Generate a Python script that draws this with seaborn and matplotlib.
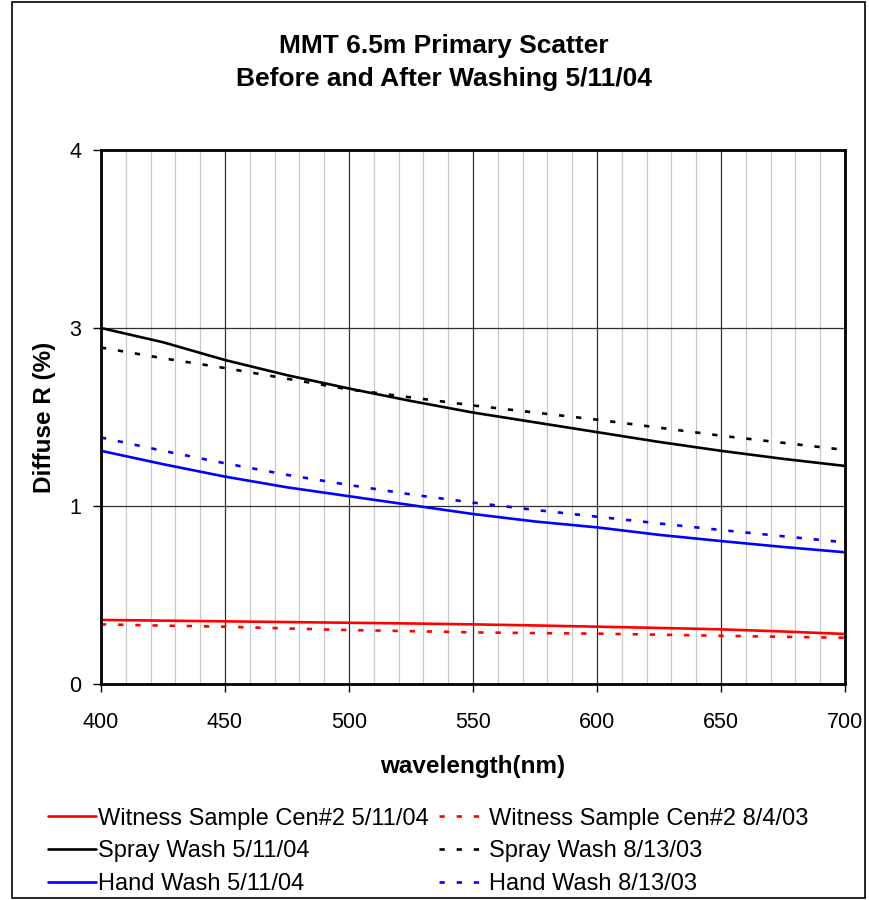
import matplotlib
matplotlib.use("Agg")
import matplotlib.pyplot as plt
import numpy as np
import pandas as pd
import seaborn as sns
from matplotlib.patches import Rectangle
from matplotlib.ticker import MultipleLocator

wavelength = [400, 425, 450, 475, 500, 525, 550, 575, 600, 625, 650, 675, 700]

witness_0504 = [0.36, 0.356, 0.352, 0.348, 0.344, 0.34, 0.335, 0.329, 0.322, 0.315, 0.307, 0.295, 0.281]
witness_0803 = [0.335, 0.328, 0.322, 0.312, 0.303, 0.297, 0.29, 0.286, 0.283, 0.277, 0.271, 0.265, 0.26]
spray_0504 = [3.0, 2.84, 2.64, 2.47, 2.32, 2.18, 2.05, 1.94, 1.83, 1.72, 1.62, 1.53, 1.45]
spray_0803 = [2.78, 2.66, 2.55, 2.43, 2.31, 2.22, 2.13, 2.05, 1.97, 1.88, 1.79, 1.71, 1.63]
hand_0504 = [1.62, 1.47, 1.33, 1.21, 1.11, 1.01, 0.955, 0.913, 0.88, 0.838, 0.803, 0.77, 0.74]
hand_0803 = [1.77, 1.62, 1.48, 1.35, 1.236, 1.13, 1.038, 0.978, 0.94, 0.902, 0.865, 0.83, 0.796]

y_ticks = [0, 1, 3, 4]
x_ticks = [400, 450, 500, 550, 600, 650, 700]

series = [
    ("Witness Sample Cen#2 5/11/04", witness_0504, "#ff0000", "-"),
    ("Spray Wash 5/11/04", spray_0504, "#000000", "-"),
    ("Hand Wash 5/11/04", hand_0504, "#0000ff", "-"),
    ("Witness Sample Cen#2 8/4/03", witness_0803, "#ff0000", (0, (2, 4.5))),
    ("Spray Wash 8/13/03", spray_0803, "#000000", (0, (2, 4.5))),
    ("Hand Wash 8/13/03", hand_0803, "#0000ff", (0, (2, 4.5))),
]

sns.set_style("white")
plt.rcParams["font.family"] = ["Liberation Sans", "DejaVu Sans"]
plt.rcParams.update({"text.color": "black", "axes.labelcolor": "black",
                     "xtick.color": "black", "ytick.color": "black"})

fig = plt.figure(figsize=(8.69, 9), dpi=100)
ax = fig.add_axes([101 / 869, 216 / 900, 744 / 869, 534 / 900])

# the y axis of the original is evenly spaced but labelled 0, 1, 3, 4
axis_pos = [0, 1, 2, 3]
ax.set_yscale("function", functions=(lambda v: np.interp(v, y_ticks, axis_pos),
                                     lambda p: np.interp(p, axis_pos, y_ticks)))

for name, vals, col, ls in series:
    df = pd.DataFrame({"wavelength": wavelength, "R": vals})
    sns.lineplot(data=df, x="wavelength", y="R", ax=ax, color=col, linestyle=ls,
                 linewidth=1.9, label=name, legend=False)

ax.set_xlim(400, 700)
ax.set_ylim(0, 4)
ax.set_xticks(x_ticks)
ax.set_yticks(y_ticks)
ax.set_yticklabels([str(t) for t in y_ticks])
ax.xaxis.set_minor_locator(MultipleLocator(10))
ax.set_axisbelow(True)
ax.grid(which="minor", axis="x", color="#c8c8c8", linewidth=0.9)
ax.grid(which="major", axis="x", color="#303030", linewidth=0.9)
ax.grid(which="major", axis="y", color="#303030", linewidth=0.9)
ax.tick_params(which="major", direction="out", length=6, width=1, color="black",
               labelsize=15.5, left=True, bottom=True)
ax.tick_params(axis="x", pad=14)
ax.tick_params(axis="y", pad=8)
ax.tick_params(which="minor", length=0)
for sp in ax.spines.values():
    sp.set_color("black")
    sp.set_linewidth(2)

ax.set_xlabel("wavelength(nm)", fontsize=17.5, fontweight="bold", labelpad=16)
ax.set_ylabel("Diffuse R (%)", fontsize=17.5, fontweight="bold", labelpad=10)
fig.suptitle("MMT 6.5m Primary Scatter\nBefore and After Washing 5/11/04",
             x=0.511, y=0.962, fontsize=19, fontweight="bold", linespacing=1.45)

handles, labels = ax.get_legend_handles_labels()
fig.legend(handles, labels, ncol=2, loc="upper left", bbox_to_anchor=(39 / 869, 0.113),
           frameon=False, fontsize=17, handlelength=2.0, handletextpad=0.1,
           columnspacing=0.45, labelspacing=0.45, borderaxespad=0)

fig.patches.append(Rectangle((12 / 869, 0.002), 853 / 869, 0.996, transform=fig.transFigure,
                             fill=False, edgecolor="black", linewidth=1.2))

fig.savefig("out.png", dpi=100)
